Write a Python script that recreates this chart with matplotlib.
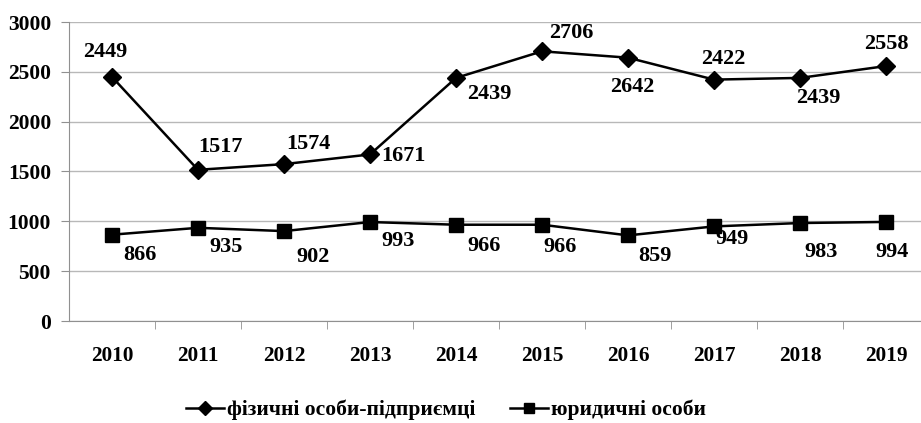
import matplotlib.pyplot as plt
import numpy as np

years = ['2010', '2011', '2012', '2013', '2014', '2015', '2016', '2017', '2018', '2019']
fop = [2449, 1517, 1574, 1671, 2439, 2706, 2642, 2422, 2439, 2558]
legal = [866, 935, 902, 993, 966, 966, 859, 949, 983, 994]

# label offsets in pixels (dx, dy)
fop_off = [(-7, 25), (22, 23), (24, 20), (33, -2), (33, -16), (29, 18), (4, -29), (9, 21), (18, -20), (0, 22)]
legal_off = [(28, -20), (28, -19), (29, -26), (28, -19), (28, -21), (18, -22), (27, -21), (18, -13), (21, -29), (6, -30)]

plt.rcParams['font.family'] = ['Liberation Serif', 'DejaVu Serif']
plt.rcParams['font.weight'] = 'bold'

fig = plt.figure(figsize=(9.21, 4.23), dpi=100)
ax = fig.add_axes([69 / 921, 1 - 321 / 423, 860 / 921, 299 / 423])

x = np.arange(len(years))
ax.plot(x, fop, color='black', lw=1.8, marker='D', ms=9, label='фізичні особи-підприємці')
ax.plot(x, legal, color='black', lw=1.8, marker='s', ms=9.5, label='юридичні особи')

for xi, v, (dx, dy) in zip(x, fop, fop_off):
    ax.annotate(str(v), (xi, v), xytext=(dx, dy), textcoords='offset pixels',
                ha='center', va='center', fontsize=16, fontweight='bold')
for xi, v, (dx, dy) in zip(x, legal, legal_off):
    ax.annotate(str(v), (xi, v), xytext=(dx, dy), textcoords='offset pixels',
                ha='center', va='center', fontsize=16, fontweight='bold')

ax.set_xlim(-0.5, len(years) - 0.5)
ax.set_ylim(0, 3000)
ax.set_yticks(range(0, 3001, 500))
ax.yaxis.grid(True, color='#b8b8b8', lw=1)
ax.set_axisbelow(True)

ax.set_xticks(x)
ax.set_xticklabels(years, fontsize=15.3, fontweight='bold')
ax.set_xticks(x[:-1] + 0.5, minor=True)
ax.tick_params(axis='x', which='major', length=0, pad=18)
ax.tick_params(axis='x', which='minor', length=6, color='#909090', direction='out')
ax.tick_params(axis='y', length=6, color='#909090', pad=7, labelsize=15.5)
for t in ax.get_yticklabels():
    t.set_fontweight('bold')

for s in ['top', 'right']:
    ax.spines[s].set_visible(False)
for s in ['left', 'bottom']:
    ax.spines[s].set_color('#909090')

fig.legend(loc='center', bbox_to_anchor=(446 / 921, 1 - 410 / 423), ncol=2, frameon=False,
           handlelength=1.75, columnspacing=1.6, handletextpad=0.15, markerscale=0.75,
           prop={'weight': 'bold', 'size': 15.5})

fig.savefig('out.png', dpi=100)
